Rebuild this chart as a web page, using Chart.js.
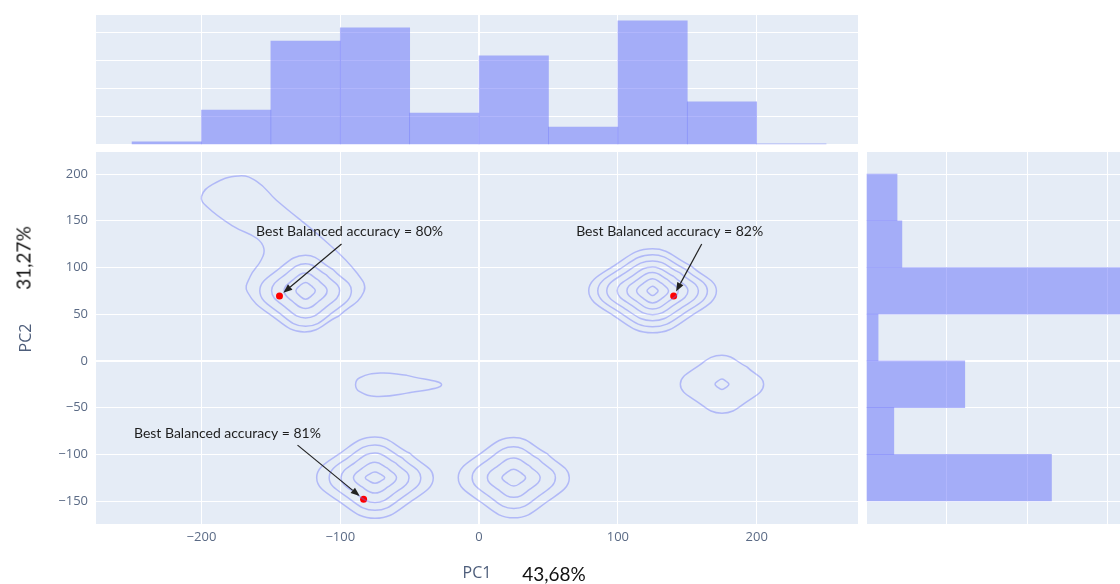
<!DOCTYPE html>
<html>
<head>
<meta charset="utf-8">
<script src="https://cdn.jsdelivr.net/npm/chart.js@4.4.1/dist/chart.umd.min.js"></script>
<style>
  html, body { margin: 0; padding: 0; background: #fff; }
  #wrap { position: relative; width: 1120px; height: 584px; overflow: hidden; background: #fff; }
  #wrap canvas { position: absolute; }
  .pct { position: absolute; font-family: Lato, sans-serif; font-size: 19px; color: #111;
         white-space: nowrap; transform: translate(-50%, -50%); }
</style>
</head>
<body>
<div id="wrap">
  <canvas id="topHist" width="762" height="130" style="left:96px; top:15px"></canvas>
  <canvas id="main" width="860" height="432" style="left:0; top:152px"></canvas>
  <canvas id="sideHist" width="254" height="372" style="left:866px; top:152px"></canvas>
  <div class="pct" style="left:554px; top:573px">43,68%</div>
  <div class="pct" style="left:23px; top:258px; transform: translate(-50%, -50%) rotate(-90deg)">31,27%</div>
</div>
<script>
// ── axis ranges / ticks (PC units) ─────────────────────
const X_MIN = -276, X_MAX = 273;
const Y_MIN = -174.6, Y_MAX = 223.6;
const xTicks = [-200, -100, 0, 100, 200];
const yTicks = [-150, -100, -50, 0, 50, 100, 150, 200];

// ── marginal histogram of PC1 (bins of 50) ─────────────
const topBinCentres = [-225, -175, -125, -75, -25, 25, 75, 125, 175, 225];
const topCounts     = [1.1, 12.5, 37.1, 41.8, 11.4, 31.8, 6.4, 44.3, 15.4, 0.4];
const topCountTicks = [0, 10, 20, 30, 40];
const TOP_MAX = 46.4;

// ── marginal histogram of PC2 (bins of 50) ─────────────
const sideBinCentres = [175, 125, 75, 25, -25, -75, -125];
const sideCounts     = [7.7, 8.9, 70, 3, 24.5, 6.9, 46];
const sideCountTicks = [0, 20, 40, 60];
const SIDE_MAX = 63;

// ── best runs + annotations ───────────────────────────
const bestX = [-143.8, 140.2, -83.2];
const bestY = [69.5, 69.5, -148.1];
const noteText = ['Best Balanced accuracy = 80%', 'Best Balanced accuracy = 82%', 'Best Balanced accuracy = 81%'];
const noteX = [-93.3, 137.3, -181.3];
const noteY = [138, 138, -77.2];
const arrowFromX = [-99.1, 160.4, -130.8];
const arrowFromY = [125.1, 125.1, -90.2];

// ── density contours: cluster centres and ring half-sizes [dx, dy] ──
const clusterX = [-125, 125, 175, -75, 25];
const clusterY = [75, 75, -25, -125, -125];
const clusterRings = [
  [[7, 9], [15.5, 19], [24.5, 29], [33, 38]],
  [[4, 5], [11.5, 13], [18.5, 19.5], [25.5, 25.5], [33, 32], [39.5, 38.5], [46, 45]],
  [[5, 5.5], [30, 31]],
  [[7, 6], [15.5, 16.5], [24.5, 26.5], [33, 35], [42, 43.5]],
  [[8.5, 9], [19, 21], [30, 33], [40, 43]],
];
// outer contour of the top-left cluster (with its tail)
const tailX = [-101, -83, -88, -112, -146, -160, -173, -192, -200, -196, -177, -160, -155, -157, -165, -167, -150, -126, -101];
const tailY = [48, 74, 94, 130, 172, 192, 198, 189, 176, 165, 144, 131, 120, 108, 90, 74, 49, 31, 48];
// small tear-shaped contour near (-60, -25)
const dropX = [-52, -27, -52, -74, -86, -89, -86, -71, -52];
const dropY = [-15.5, -25.5, -34.5, -38, -33, -25.5, -18, -13, -15.5];

// rounded-diamond outline used for each ring
const RING = [[0.6, 0.6], [1, 0], [0.6, -0.6], [0, -1], [-0.6, -0.6], [-1, 0], [-0.6, 0.6], [0, 1], [0.6, 0.6]];

const BG = '#E5ECF6';
const TICK_COLOR = '#5a6a85';
const BAR_COLOR = 'rgba(99,110,250,0.5)';
const LINE_COLOR = 'rgba(99,110,250,0.4)';

const fmt = v => (v < 0 ? '\u2212' + Math.abs(v) : String(v));
const zeroWidth = c => (c.tick && c.tick.value === 0 ? 2 : 1);

const plotBg = {
  id: 'plotBg',
  beforeDraw(chart) {
    const { ctx, chartArea: a } = chart;
    ctx.save();
    ctx.fillStyle = BG;
    ctx.fillRect(a.left, a.top, a.right - a.left, a.bottom - a.top);
    ctx.restore();
  },
};

function pinAxis(size, ticks) {
  return {
    afterBuildTicks: s => { s.ticks = ticks.map(v => ({ value: v })); },
    afterFit: s => {
      if (s.isHorizontal()) s.height = size; else s.width = size;
      s.paddingTop = s.paddingBottom = s.paddingLeft = s.paddingRight = 0;
    },
  };
}

function hiddenAxis(min, max, ticks) {
  return {
    type: 'linear', min, max, offset: false,
    ...pinAxis(0, ticks),
    grid: { color: '#fff', lineWidth: zeroWidth, drawTicks: false, offset: false },
    border: { display: false },
    ticks: { display: false },
  };
}

const baseOpts = {
  responsive: false, animation: false,
  layout: { padding: 0, autoPadding: false },
  plugins: { legend: { display: false }, tooltip: { enabled: false } },
};

// ── top histogram ─────────────────────────────────────
new Chart(document.getElementById('topHist'), {
  type: 'bar',
  data: {
    datasets: [{
      data: topBinCentres.map((x, i) => ({ x, y: topCounts[i] })),
      backgroundColor: BAR_COLOR, borderWidth: 0,
      barPercentage: 1, categoryPercentage: 1,
    }],
  },
  options: {
    ...baseOpts,
    scales: {
      x: hiddenAxis(X_MIN, X_MAX, xTicks),
      y: hiddenAxis(0, TOP_MAX, topCountTicks),
    },
  },
  plugins: [plotBg],
});

// ── side histogram ────────────────────────────────────
new Chart(document.getElementById('sideHist'), {
  type: 'bar',
  data: {
    datasets: [{
      data: sideBinCentres.map((y, i) => ({ x: sideCounts[i], y })),
      backgroundColor: BAR_COLOR, borderWidth: 0,
      barPercentage: 1, categoryPercentage: 1,
    }],
  },
  options: {
    ...baseOpts,
    indexAxis: 'y',
    scales: {
      x: hiddenAxis(0, SIDE_MAX, sideCountTicks),
      y: hiddenAxis(Y_MIN, Y_MAX, yTicks),
    },
  },
  plugins: [plotBg],
});

// ── main contour plot ─────────────────────────────────
const contourSets = [];
clusterRings.forEach((rings, c) => {
  rings.forEach(([dx, dy]) => {
    contourSets.push(RING.map(([u, v]) => ({ x: clusterX[c] + u * dx, y: clusterY[c] + v * dy })));
  });
});
contourSets.push(tailX.map((x, i) => ({ x, y: tailY[i] })));
contourSets.push(dropX.map((x, i) => ({ x, y: dropY[i] })));

const notes = {
  id: 'notes',
  afterDatasetsDraw(chart) {
    const { ctx, scales: { x, y } } = chart;
    ctx.save();
    noteText.forEach((t, i) => {
      const x0 = x.getPixelForValue(arrowFromX[i]), y0 = y.getPixelForValue(arrowFromY[i]);
      const x1 = x.getPixelForValue(bestX[i]), y1 = y.getPixelForValue(bestY[i]);
      const ang = Math.atan2(y1 - y0, x1 - x0);
      const tx = x1 - 5 * Math.cos(ang), ty = y1 - 5 * Math.sin(ang);
      const hx = tx - 9 * Math.cos(ang), hy = ty - 9 * Math.sin(ang);
      ctx.strokeStyle = '#222'; ctx.fillStyle = '#222'; ctx.lineWidth = 1.2;
      ctx.beginPath(); ctx.moveTo(x0, y0); ctx.lineTo(hx, hy); ctx.stroke();
      ctx.beginPath();
      ctx.moveTo(tx, ty);
      ctx.lineTo(hx + 3.5 * Math.sin(ang), hy - 3.5 * Math.cos(ang));
      ctx.lineTo(hx - 3.5 * Math.sin(ang), hy + 3.5 * Math.cos(ang));
      ctx.closePath(); ctx.fill();

      ctx.font = '14px Lato, sans-serif';
      ctx.fillStyle = '#1e1e1e';
      ctx.textAlign = 'center'; ctx.textBaseline = 'middle';
      ctx.fillText(t, x.getPixelForValue(noteX[i]), y.getPixelForValue(noteY[i]));
    });
    ctx.restore();
  },
};

new Chart(document.getElementById('main'), {
  type: 'line',
  data: {
    datasets: [
      ...contourSets.map(pts => ({
        data: pts, borderColor: LINE_COLOR, borderWidth: 1.5,
        pointRadius: 0, tension: 0.45, fill: false,
      })),
      {
        data: bestX.map((x, i) => ({ x, y: bestY[i] })),
        showLine: false, pointRadius: 3.5, pointBackgroundColor: '#ff0000', pointBorderWidth: 0,
      },
    ],
  },
  options: {
    ...baseOpts,
    layout: { padding: { right: 2 }, autoPadding: false },
    scales: {
      x: {
        type: 'linear', min: X_MIN, max: X_MAX,
        ...pinAxis(60, xTicks),
        grid: { color: '#fff', lineWidth: zeroWidth, drawTicks: false },
        border: { display: false },
        ticks: { color: TICK_COLOR, font: { family: 'Open Sans', size: 13 }, padding: 5, maxRotation: 0, callback: fmt },
        title: { display: true, text: 'PC1', color: '#4d5d7a', font: { family: 'Open Sans', size: 16 }, padding: { top: 0, bottom: 1 } },
      },
      y: {
        type: 'linear', min: Y_MIN, max: Y_MAX,
        ...pinAxis(96, yTicks),
        grid: { color: '#fff', lineWidth: zeroWidth, drawTicks: false },
        border: { display: false },
        ticks: { color: TICK_COLOR, font: { family: 'Open Sans', size: 13 }, padding: 8, callback: fmt },
        title: { display: true, text: 'PC2', color: '#4d5d7a', font: { family: 'Open Sans', size: 16 }, padding: { top: 17, bottom: 0 } },
      },
    },
  },
  plugins: [plotBg, notes],
});
</script>
</body>
</html>
